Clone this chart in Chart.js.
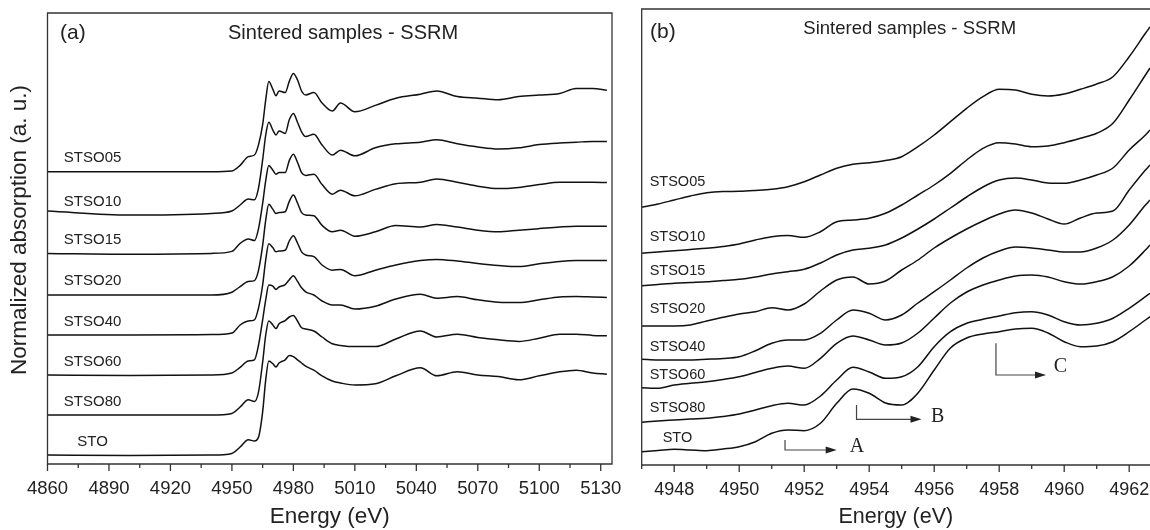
<!DOCTYPE html>
<html><head><meta charset="utf-8">
<script src="https://cdn.jsdelivr.net/npm/chart.js@4.4.1/dist/chart.umd.min.js"></script>
<style>
html,body{margin:0;padding:0;background:#fff;}
#wrap{position:relative;width:1150px;height:530px;overflow:hidden;background:#fff;}
#ca{position:absolute;left:0;top:0;}
#cb{position:absolute;left:630px;top:0;}
</style></head><body>
<div id="wrap"><canvas id="ca" width="625" height="530"></canvas><canvas id="cb" width="520" height="530"></canvas></div>
<script>
// ---------------- DATA ----------------
const samples = ['STSO05','STSO10','STSO15','STSO20','STSO40','STSO60','STSO80','STO'];

// Panel (a): full XANES, normalized absorption (a.u.), stacked with vertical offsets
const energyA = [4860,4900,4940,4950,4954,4958,4961,4963,4965,4966.5,4968,4970,4971.5,4973,4976,4978,4980,4982,4984,4986,4990,4994,4999,5003,5010,5020,5030,5042,5050,5060,5070,5080,5090,5100,5110,5118,5126,5133];
const offsetsA = [3.54,3.0,2.52,2.01,1.5,1.0,0.5,0];
const stso05A = [0,0,0,0.01,0.08,0.19,0.21,0.34,0.59,0.9,1.13,1.03,0.95,1.01,0.99,1.13,1.23,1.15,1.01,0.96,0.99,0.86,0.76,0.86,0.75,0.83,0.92,0.97,1.01,0.94,0.92,0.9,0.94,0.96,0.98,1.04,1.04,1.02];
const stso10A = [0.05,0,0.02,0.05,0.125,0.2,0.19,0.34,0.69,1.0,1.16,1.06,1.0,1.05,1.02,1.19,1.27,1.16,1.04,0.98,1.01,0.875,0.75,0.81,0.74,0.84,0.89,0.91,0.94,0.89,0.85,0.825,0.84,0.88,0.9,0.91,0.92,0.92];
const stso15A = [0,-0.01,0,0.025,0.125,0.18,0.16,0.31,0.625,0.91,1.1,1.04,0.99,1.01,1.01,1.16,1.24,1.14,1.01,0.975,0.99,0.86,0.74,0.79,0.72,0.8,0.87,0.89,0.93,0.89,0.84,0.81,0.825,0.86,0.89,0.89,0.89,0.885];
const stso20A = [-0.01,-0.01,-0.01,0.025,0.095,0.16,0.17,0.3,0.61,0.925,1.125,1.06,1.01,1.02,1.03,1.16,1.24,1.14,1.02,0.99,0.98,0.86,0.78,0.8,0.725,0.78,0.86,0.84,0.87,0.84,0.8,0.78,0.8,0.82,0.84,0.85,0.85,0.85];
const stso40A = [0,0,0.005,0.025,0.125,0.175,0.19,0.34,0.625,0.94,1.14,1.09,1.04,1.05,1.06,1.175,1.24,1.15,1.04,1.0,0.98,0.875,0.81,0.82,0.74,0.81,0.875,0.93,0.945,0.925,0.895,0.87,0.855,0.89,0.92,0.93,0.93,0.93];
const stso60A = [0,-0.005,0,0.025,0.095,0.175,0.19,0.375,0.69,0.94,1.125,1.11,1.07,1.1,1.13,1.19,1.24,1.17,1.09,1.04,1.0,0.925,0.875,0.875,0.825,0.86,0.95,1.01,0.96,0.98,0.94,0.91,0.905,0.94,0.975,0.98,0.975,0.97];
const stso80A = [0,0,0,0.02,0.1,0.19,0.17,0.29,0.66,1.0,1.175,1.125,1.08,1.14,1.18,1.225,1.245,1.175,1.09,1.075,1.05,0.975,0.89,0.87,0.855,0.855,0.95,1.05,0.975,1.01,0.97,0.94,0.92,0.96,1.01,1.01,0.995,0.99];
const stoA    = [0,-0.005,0,0.02,0.1,0.19,0.175,0.225,0.54,0.94,1.175,1.14,1.1,1.15,1.19,1.245,1.23,1.19,1.15,1.11,1.06,0.99,0.925,0.9,0.875,0.89,0.99,1.09,0.99,1.04,1.0,0.98,0.94,0.99,1.04,1.06,1.025,1.01];
const ticksA = [4860,4890,4920,4950,4980,5010,5040,5070,5100,5130];
const minorTicksA = [4875,4905,4935,4965,4995,5025,5055,5085,5115];

// Panel (b): pre-edge region (a.u.)
const energyB = [4947,4947.5,4948,4948.5,4949,4949.5,4950,4950.5,4951,4951.5,4952,4952.5,4953,4953.5,4954,4954.5,4955,4955.5,4956,4956.5,4957,4957.5,4958,4958.5,4959,4959.5,4960,4960.5,4961,4961.5,4962,4962.5,4962.64];
const stso05B = [2.577,2.61,2.65,2.69,2.723,2.735,2.737,2.745,2.757,2.783,2.833,2.9,2.967,3.007,3.023,3.045,3.083,3.183,3.3,3.433,3.567,3.683,3.757,3.75,3.707,3.69,3.71,3.757,3.81,3.883,4.083,4.317,4.38];
const stso10B = [2.117,2.13,2.143,2.155,2.167,2.185,2.21,2.25,2.283,2.295,2.277,2.333,2.433,2.45,2.467,2.517,2.6,2.7,2.8,2.917,3.05,3.167,3.223,3.21,3.183,3.19,3.223,3.267,3.317,3.417,3.65,3.9,3.97];
const stso15B = [1.793,1.805,1.817,1.825,1.833,1.845,1.857,1.88,1.91,1.933,1.957,2.02,2.1,2.15,2.167,2.2,2.27,2.36,2.46,2.57,2.68,2.78,2.85,2.87,2.85,2.82,2.817,2.85,2.9,2.97,3.15,3.3,3.35];
const stso20B = [1.39,1.39,1.39,1.4,1.44,1.477,1.51,1.533,1.573,1.55,1.61,1.74,1.85,1.88,1.81,1.84,1.95,2.05,2.17,2.27,2.36,2.44,2.51,2.55,2.52,2.46,2.41,2.47,2.52,2.54,2.75,2.95,3.0];
const stso40B = [1.057,1.05,1.05,1.05,1.057,1.065,1.083,1.143,1.217,1.25,1.25,1.317,1.45,1.55,1.517,1.45,1.5,1.62,1.733,1.85,1.97,2.07,2.14,2.18,2.17,2.15,2.13,2.13,2.17,2.25,2.4,2.6,2.65];
const stso60B = [0.773,0.767,0.8,0.817,0.833,0.855,0.883,0.925,0.967,0.99,0.967,1.067,1.217,1.29,1.25,1.2,1.22,1.32,1.47,1.62,1.73,1.8,1.85,1.89,1.9,1.88,1.833,1.81,1.833,1.883,1.99,2.15,2.2];
const stso80B = [0.427,0.44,0.45,0.46,0.467,0.485,0.51,0.55,0.593,0.617,0.6,0.69,0.85,0.977,0.93,0.867,0.883,0.983,1.183,1.333,1.417,1.457,1.49,1.523,1.533,1.5,1.433,1.4,1.417,1.467,1.567,1.683,1.717];
const stoB    = [0.133,0.145,0.157,0.15,0.143,0.16,0.183,0.233,0.317,0.35,0.343,0.417,0.617,0.76,0.717,0.62,0.6,0.72,0.95,1.17,1.27,1.31,1.333,1.36,1.367,1.32,1.233,1.183,1.19,1.233,1.333,1.45,1.483];
const ticksB = [4948,4950,4952,4954,4956,4958,4960,4962];
const minorTicksB = [4947,4949,4951,4953,4955,4957,4959,4961];

// ---------------- LAYOUT / STYLE ----------------
const FONT = '"Liberation Sans", Arial, Helvetica, sans-serif';
const SERIF = '"Liberation Serif", "Times New Roman", serif';
const INK = '#222';
const labelsYB = [2.833,2.283,1.943,1.56,1.183,0.9,0.573,0.267];
const arrowsB = [
  {x0:4951.41, yTop:0.25, yBase:0.15, x1:4953.0, text:'A', tx:4953.62, ty:0.18},
  {x0:4953.61, yTop:0.6, yBase:0.457, x1:4955.61, text:'B', tx:4956.11, ty:0.483},
  {x0:4957.9, yTop:1.217, yBase:0.9, x1:4959.44, text:'C', tx:4959.88, ty:0.98}
];

function makeDatasets(energy, series, offsets) {
  return series.map((s, k) => ({
    label: samples[k],
    data: energy.map((e, i) => ({x: e, y: s[i] + (offsets ? offsets[k] : 0)})),
    borderColor: '#111', borderWidth: 1.5, pointRadius: 0, fill: false,
    cubicInterpolationMode: 'monotone'
  }));
}

const decor = {
  id: 'decor',
  afterDraw(chart, args, o) {
    const {ctx, chartArea: a} = chart;
    const xs = chart.scales.x, ys = chart.scales.y;
    ctx.save();
    ctx.strokeStyle = '#333'; ctx.lineWidth = 1.3;
    ctx.beginPath();
    if (o.closed) {
      ctx.rect(a.left, a.top, a.right - a.left, a.bottom - a.top);
    } else {
      ctx.moveTo(a.right + 5, a.top); ctx.lineTo(a.left, a.top);
      ctx.lineTo(a.left, a.bottom); ctx.lineTo(a.right + 5, a.bottom);
    }
    ctx.stroke();
    ctx.beginPath();
    o.major.forEach(v => { const p = xs.getPixelForValue(v); ctx.moveTo(p, a.bottom); ctx.lineTo(p, a.bottom + 7); });
    o.minor.forEach(v => { const p = xs.getPixelForValue(v); ctx.moveTo(p, a.bottom); ctx.lineTo(p, a.bottom + 4); });
    ctx.stroke();
    ctx.fillStyle = INK; ctx.textBaseline = 'middle'; ctx.textAlign = 'left';
    ctx.font = o.tagSize + 'px ' + FONT; ctx.fillText(o.tag, a.left + o.tagDx, a.top + o.tagDy);
    ctx.font = o.titleSize + 'px ' + FONT; ctx.fillText(o.title, a.left + o.titleDx, a.top + o.titleDy);
    if (o.yTitle) {
      ctx.save();
      ctx.translate(o.yTitle.x, o.yTitle.y); ctx.rotate(-Math.PI / 2);
      ctx.textAlign = 'center'; ctx.font = o.yTitle.size + 'px ' + FONT;
      ctx.fillText(o.yTitle.text, 0, 0);
      ctx.restore();
    }
    ctx.textAlign = 'center'; ctx.font = o.labelSize + 'px ' + FONT;
    o.labels.forEach(l => ctx.fillText(l.text, xs.getPixelForValue(l.x), ys.getPixelForValue(l.y)));
    (o.arrows || []).forEach(ar => {
      const x0 = xs.getPixelForValue(ar.x0), y0 = ys.getPixelForValue(ar.yTop);
      const y1 = ys.getPixelForValue(ar.yBase), x1 = xs.getPixelForValue(ar.x1);
      ctx.strokeStyle = '#444'; ctx.lineWidth = 1.2;
      ctx.beginPath(); ctx.moveTo(x0, y0); ctx.lineTo(x0, y1); ctx.lineTo(x1 - 8, y1); ctx.stroke();
      ctx.fillStyle = '#222'; ctx.beginPath();
      ctx.moveTo(x1, y1); ctx.lineTo(x1 - 11, y1 - 3.5); ctx.lineTo(x1 - 11, y1 + 3.5); ctx.closePath(); ctx.fill();
      ctx.font = '20px ' + SERIF; ctx.textAlign = 'center'; ctx.fillStyle = INK;
      ctx.fillText(ar.text, xs.getPixelForValue(ar.tx), ys.getPixelForValue(ar.ty));
    });
    ctx.restore();
  }
};

function xScale(min, max, ticks, tickSize, titleSize, h) {
  return {
    type: 'linear', position: 'bottom', min: min, max: max,
    afterBuildTicks: s => { s.ticks = ticks.map(v => ({value: v})); },
    afterFit: s => { s.height = h; s.paddingRight = 0; s.paddingLeft = 0; },
    grid: {display: false, drawTicks: true, tickLength: 14},
    border: {display: false},
    ticks: {padding: 0, color: INK, font: {size: tickSize, family: FONT}, maxRotation: 0, autoSkip: false,
            callback: v => String(v)},
    title: {display: true, text: 'Energy (eV)', color: INK, font: {size: titleSize, family: FONT}, padding: {top: 0, bottom: 0}}
  };
}

// ---------------- CHART (a) ----------------
new Chart(document.getElementById('ca'), {
  type: 'line',
  data: {datasets: makeDatasets(energyA, [stso05A, stso10A, stso15A, stso20A, stso40A, stso60A, stso80A, stoA], offsetsA)},
  options: {
    responsive: false, animation: false, devicePixelRatio: 1,
    layout: {padding: {left: 47.5, top: 13, right: 13, bottom: 0}},
    plugins: {
      legend: {display: false}, tooltip: {enabled: false},
      decor: {
        closed: true, major: ticksA, minor: minorTicksA,
        tag: '(a)', tagSize: 21, tagDx: 12.5, tagDy: 20,
        title: 'Sintered samples - SSRM', titleSize: 20, titleDx: 180.5, titleDy: 20,
        yTitle: {text: 'Normalized absorption (a. u.)', size: 22.5, x: 20, y: 230},
        labelSize: 15,
        labels: samples.map((s, k) => ({text: s, x: 4882, y: offsetsA[k] + 0.17}))
      }
    },
    scales: {
      x: xScale(4860, 5135.5, ticksA, 18.5, 22.5, 66),
      y: {type: 'linear', display: false, min: -0.1125, max: 5.525}
    }
  },
  plugins: [decor]
});

// ---------------- CHART (b) ----------------
new Chart(document.getElementById('cb'), {
  type: 'line',
  data: {datasets: makeDatasets(energyB, [stso05B, stso10B, stso15B, stso20B, stso40B, stso60B, stso80B, stoB], null)},
  options: {
    responsive: false, animation: false, devicePixelRatio: 1,
    layout: {padding: {left: 11.7, top: 9, right: 0, bottom: 0}},
    plugins: {
      legend: {display: false}, tooltip: {enabled: false},
      decor: {
        closed: false, major: ticksB, minor: minorTicksB,
        tag: '(b)', tagSize: 21, tagDx: 8.3, tagDy: 23,
        title: 'Sintered samples - SSRM', titleSize: 18.5, titleDx: 161.6, titleDy: 20,
        labelSize: 14.5,
        labels: samples.map((s, k) => ({text: s, x: 4948.1, y: labelsYB[k]})),
        arrows: arrowsB
      }
    },
    scales: {
      x: xScale(4947, 4962.64, ticksB, 18, 21.5, 65),
      y: {type: 'linear', display: false, min: 0, max: 4.56}
    }
  },
  plugins: [decor]
});
</script>
</body></html>
